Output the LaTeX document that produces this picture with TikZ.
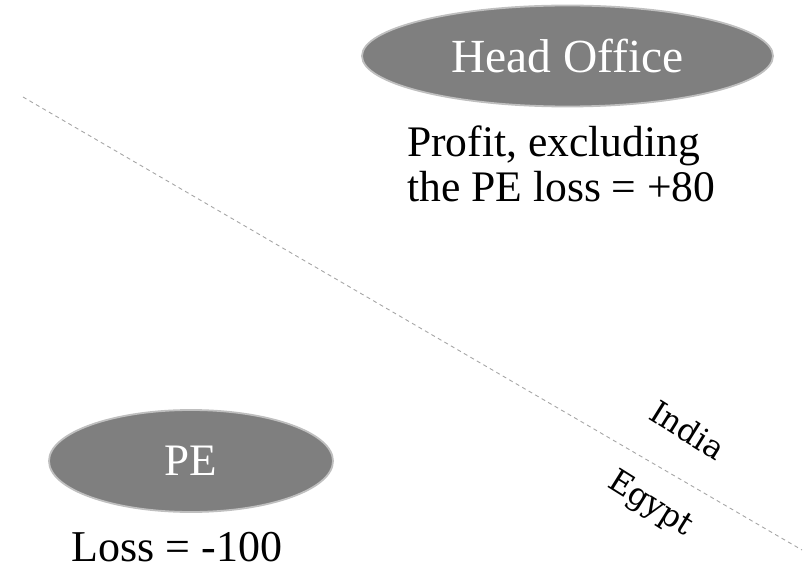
\documentclass[tikz,border=0pt]{standalone}
\usepackage{fontspec}
\setmainfont{Liberation Serif}
\newfontfamily\labfont{DejaVu Serif}
\usetikzlibrary{shapes.geometric}
\definecolor{ellfill}{HTML}{7F7F7F}
\definecolor{elledge}{HTML}{BFBFBF}
\definecolor{dashgray}{HTML}{A6A6A6}
\tikzset{
  unit/.style={x=1pt,y=-1pt},
  blob/.style={ellipse, fill=ellfill, draw=elledge, line width=1.8pt, text=white, inner sep=0pt},
  note/.style={text=black, inner sep=0pt},
  divider/.style={draw=dashgray, line width=0.9pt, dash pattern=on 4pt off 3.5pt},
  side/.style={text=black, inner sep=0pt, rotate=-32, font=\labfont\fontsize{31.5}{34}\selectfont}
}
\begin{document}
\begin{tikzpicture}[unit]
\useasboundingbox (0,0) rectangle (804,567);
\coordinate (d1) at (23,97);
\coordinate (d2) at (802,550);
\draw[divider] (d1) -- (d2);
\node[blob, minimum width=411pt, minimum height=101pt, font=\fontsize{47.5}{50}\selectfont] (ho) at (567.5,56) {Head Office};
\node[note, anchor=base west, align=left, font=\fontsize{43.6}{44}\selectfont] (profit) at (407,201) {Profit, excluding\\the PE loss = +80};
\node[blob, minimum width=284pt, minimum height=102pt, font=\fontsize{45}{48}\selectfont] (pe) at (191,461) {PE};
\node[note, anchor=base, font=\fontsize{44}{46}\selectfont] (loss) at (177,561) {Loss = -100};
\node[side] (india) at (688,430) {India};
\node[side] (egypt) at (650,505) {Egypt};
\end{tikzpicture}
\end{document}
